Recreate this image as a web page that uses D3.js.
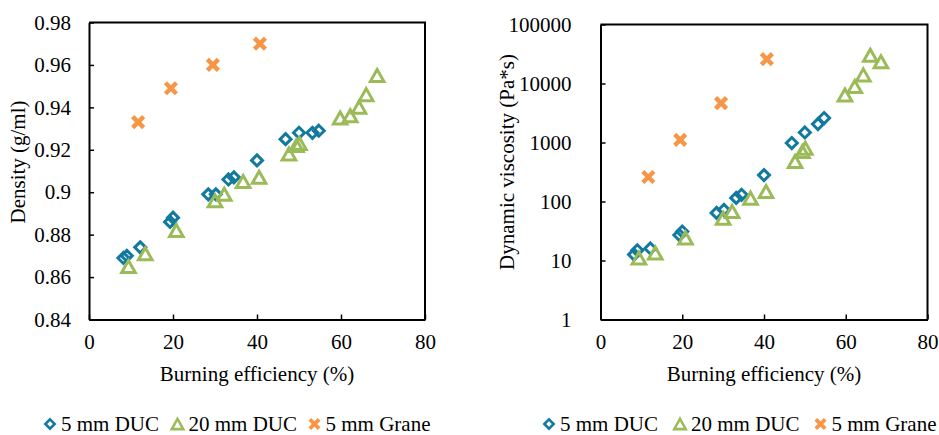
<!DOCTYPE html>
<html>
<head>
<meta charset="utf-8">
<script src="https://cdn.jsdelivr.net/npm/d3@7"></script>
<style>
  body { margin: 0; background: #fff; }
  text { font-family: "Liberation Serif"; }
</style>
</head>
<body>
<svg id="chart" width="939" height="435"></svg>
<script>
// burning efficiency (%) per sample, per series
const ducSmallX = [8.2, 9.0, 12.2, 19.3, 20.0, 28.4, 30.2, 33.2, 34.5, 40.0, 46.8, 50.0, 53.2, 54.7];
const ducLargeX = [9.4, 13.4, 20.8, 30.0, 32.2, 36.7, 40.5, 47.6, 49.4, 50.1, 59.8, 62.2, 64.3, 66.0, 68.6];
const graneX = [11.7, 19.5, 29.5, 40.7];

// density (g/ml)
const ducSmallDensity = [0.869, 0.870, 0.874, 0.886, 0.888, 0.899, 0.899, 0.906, 0.907, 0.915, 0.925, 0.928, 0.928, 0.929];
const ducLargeDensity = [0.865, 0.871, 0.882, 0.896, 0.899, 0.905, 0.907, 0.918, 0.922, 0.923, 0.935, 0.936, 0.940, 0.946, 0.955];
const graneDensity = [0.933, 0.949, 0.960, 0.970];

// dynamic viscosity (Pa*s)
const ducSmallVisc = [12.6, 14.9, 16, 27, 31, 64, 72, 115, 130, 280, 980, 1480, 2050, 2600];
const ducLargeVisc = [11, 13.4, 24, 52, 68, 114, 148, 475, 705, 800, 6400, 8900, 14000, 30000, 23400];
const graneVisc = [260, 1110, 4640, 25800];

const seriesNames = ["5 mm DUC", "20 mm DUC", "5 mm Grane"];
const xTicks = [0, 20, 40, 60, 80];
const densityTicks = [0.84, 0.86, 0.88, 0.9, 0.92, 0.94, 0.96, 0.98];
const viscTicks = [1, 10, 100, 1000, 10000, 100000];

const colors = ["#12799f", "#9bbb59", "#f79646"];
const shapes = ["diamond", "triangle", "cross"];
const FONT = '"Liberation Serif"';
const FS = "21px";

const svg = d3.select("#chart");

function drawMarker(g, shape, color) {
  if (shape === "diamond") {
    const s = 5.5;
    g.append("path")
      .attr("d", `M0,${-s}L${s},0L0,${s}L${-s},0Z`)
      .attr("fill", "none").attr("stroke", color).attr("stroke-width", 3);
  } else if (shape === "triangle") {
    const w = 6.8, h = 6;
    g.append("path")
      .attr("d", `M0,${-h}L${w},${h}L${-w},${h}Z`)
      .attr("fill", "none").attr("stroke", color).attr("stroke-width", 3);
  } else {
    const s = 5.5;
    g.append("path")
      .attr("d", `M${-s},${-s}L${s},${s}M${s},${-s}L${-s},${s}`)
      .attr("fill", "none").attr("stroke", color).attr("stroke-width", 4.5);
  }
}

function setFont(sel) {
  sel.attr("font-family", "Liberation Serif").style("font-family", FONT).style("font-size", FS);
}

function styleAxis(a) {
  a.attr("font-family", null).attr("font-size", null);
  a.select(".domain").attr("stroke-width", 2);
  a.selectAll(".tick line").attr("stroke-width", 1.5);
  a.selectAll("text").call(setFont).attr("fill", "#000");
}

function panel(opts) {
  const { left, right, top, bottom, y, yTicks, yFormat, yPad, yTitle, yTitleX, series, legend } = opts;
  const x = d3.scaleLinear().domain([0, 80]).range([left, right]);
  y.range([bottom, top]);

  const g = svg.append("g");

  // axes: ticks point inward
  g.append("g")
    .attr("transform", `translate(0,${bottom})`)
    .call(d3.axisBottom(x).tickValues(xTicks).tickSizeInner(-5).tickSizeOuter(0).tickPadding(15))
    .call(styleAxis);

  g.append("g")
    .attr("transform", `translate(${left},0)`)
    .call(d3.axisLeft(y).tickValues(yTicks).tickFormat(yFormat).tickSizeInner(-5).tickSizeOuter(0).tickPadding(yPad))
    .call(styleAxis);

  // frame top/right
  g.append("path")
    .attr("d", `M${left},${top}H${right}V${bottom}`)
    .attr("fill", "none").attr("stroke", "#000").attr("stroke-width", 2);

  g.append("text")
    .attr("x", (left + right) / 2).attr("y", 381)
    .attr("text-anchor", "middle")
    .call(setFont)
    .text("Burning efficiency (%)");

  g.append("text")
    .attr("transform", `translate(${yTitleX},162) rotate(-90)`)
    .attr("text-anchor", "middle")
    .call(setFont)
    .text(yTitle);

  series.forEach((s, i) => {
    const pts = s.x.map((v, j) => [v, s.y[j]]);
    g.append("g").selectAll("g")
      .data(pts)
      .join("g")
      .attr("transform", d => `translate(${x(d[0])},${y(d[1])})`)
      .each(function () { drawMarker(d3.select(this), shapes[i], colors[i]); });
  });

  // legend
  const lg = g.append("g").attr("transform", `translate(0,424)`);
  legend.forEach((lx, i) => {
    const item = lg.append("g").attr("transform", `translate(${lx},0)`);
    drawMarker(item.append("g").attr("transform", "scale(0.85)"), shapes[i], colors[i]);
    item.append("text").attr("x", 11).attr("dy", "0.33em")
      .call(setFont)
      .text(seriesNames[i]);
  });
}

panel({
  left: 89, right: 425, top: 22.5, bottom: 319.5,
  y: d3.scaleLinear().domain([0.84, 0.98]),
  yTicks: densityTicks,
  yFormat: d => String(+d.toFixed(2)),
  yPad: 18,
  yTitle: "Density (g/ml)",
  yTitleX: 25,
  series: [
    { x: ducSmallX, y: ducSmallDensity },
    { x: ducLargeX, y: ducLargeDensity },
    { x: graneX, y: graneDensity }
  ],
  legend: [50, 177.5, 314.5]
});

panel({
  left: 600.5, right: 927.5, top: 24.5, bottom: 319.5,
  y: d3.scaleLog().domain([1, 100000]),
  yTicks: viscTicks,
  yFormat: d => String(d),
  yPad: 29,
  yTitle: "Dynamic viscosity (Pa*s)",
  yTitleX: 514,
  series: [
    { x: ducSmallX, y: ducSmallVisc },
    { x: ducLargeX, y: ducLargeVisc },
    { x: graneX, y: graneVisc }
  ],
  legend: [549, 680, 820.5]
});
</script>
</body>
</html>
